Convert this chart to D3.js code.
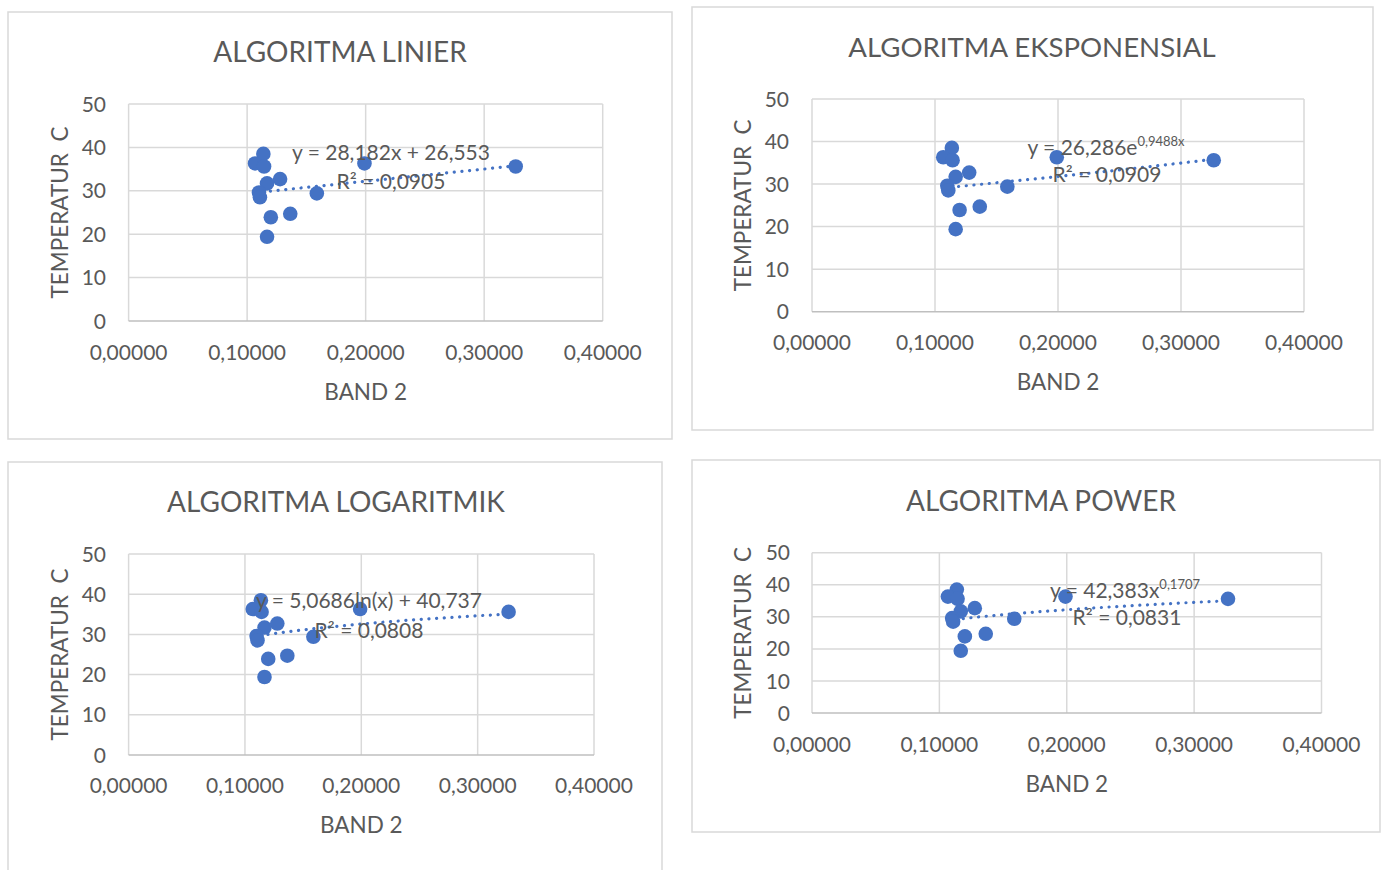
<!DOCTYPE html>
<html><head><meta charset="utf-8">
<script src="https://cdn.jsdelivr.net/npm/d3@7"></script>
<style>
body{margin:0;background:#fff;overflow:hidden;}
svg text{font-family:Lato,"Open Sans",sans-serif;fill:#595959;}
</style></head><body>
<svg id="c" width="1381" height="870"></svg>
<script>
// ---- data ----
const band2       = [0.1137, 0.1067, 0.1143, 0.1278, 0.1168, 0.1100, 0.1108, 0.1588, 0.1990, 0.3266, 0.1200, 0.1364, 0.1168];
const temperature = [38.5,   36.3,   35.6,   32.7,   31.7,   29.6,   28.5,   29.4,   36.3,   35.6,   23.9,   24.7,   19.4];
const xTicks = [0, 0.1, 0.2, 0.3, 0.4];
const yTicks = [0, 10, 20, 30, 40, 50];
const chartTitles = ["ALGORITMA LINIER", "ALGORITMA EKSPONENSIAL", "ALGORITMA LOGARITMIK", "ALGORITMA POWER"];
const trendTypes = ["linear", "exp", "log", "power"];
const trendA = [28.182, 26.286, 5.0686, 42.383];
const trendB = [26.553, 0.9488, 40.737, 0.1707];
const eqMain = ["y = 28,182x + 26,553", "y = 26,286e", "y = 5,0686ln(x) + 40,737", "y = 42,383x"];
const eqSup  = ["", "0,9488x", "", "0,1707"];
const rSquared = ["0,0905", "0,0909", "0,0808", "0,0831"];
const xLabel = "BAND 2", yLabel = "TEMPERATUR  C";

// ---- layout ----
const layouts = [
 {box:[8,12,672,439],   plot:[128.6,602.7,104,321],  titleX:340,  titleY:62,  titleSize:28,   tickY:360,  axisY:400,  ytickX:106, ytitleX:68,  eq:[391,160],  r2:[391,189]},
 {box:[692,7,1373,430], plot:[812,1304,99,311.7],    titleX:1032, titleY:57,  titleSize:27.6, tickY:350,  axisY:390,  ytickX:789, ytitleX:751, eq:[1106,155], r2:[1107,182]},
 {box:[8,462,662,900],  plot:[128.6,594,554,755],    titleX:336,  titleY:512, titleSize:28,   tickY:793,  axisY:833,  ytickX:106, ytitleX:68,  eq:[369,608],  r2:[369,638]},
 {box:[692,460,1380,832],plot:[812,1321.5,552.7,713],titleX:1041, titleY:511, titleSize:28,   tickY:752,  axisY:792,  ytickX:790, ytitleX:751, eq:[1125,598], r2:[1127,625]}
];

const fmtX = v => d3.format(".5f")(v).replace(".", ",");
const trendFn = (t, a, b) => t === "linear" ? x => a*x + b
  : t === "exp" ? x => a*Math.exp(b*x)
  : t === "log" ? x => a*Math.log(x) + b
  : x => a*Math.pow(x, b);

const svg = d3.select("#c");
const pts = band2.map((x,i) => ({x, y: temperature[i]}));
const xMin = d3.min(band2), xMax = d3.max(band2);

layouts.forEach((L, i) => {
  const g = svg.append("g");
  g.append("rect").attr("x", L.box[0]).attr("y", L.box[1])
    .attr("width", L.box[2]-L.box[0]).attr("height", L.box[3]-L.box[1])
    .attr("fill", "#fff").attr("stroke", "#d9d9d9").attr("stroke-width", 1.5);

  const x = d3.scaleLinear().domain([0, 0.4]).range([L.plot[0], L.plot[1]]);
  const y = d3.scaleLinear().domain([0, 50]).range([L.plot[3], L.plot[2]]);

  // gridlines
  g.selectAll(".hg").data(yTicks.filter(d => d > 0)).join("line")
    .attr("x1", L.plot[0]).attr("x2", L.plot[1]).attr("y1", d => y(d)).attr("y2", d => y(d))
    .attr("stroke", "#d9d9d9").attr("stroke-width", 1.5);
  g.selectAll(".vg").data(xTicks).join("line")
    .attr("x1", d => x(d)).attr("x2", d => x(d)).attr("y1", L.plot[2]).attr("y2", L.plot[3])
    .attr("stroke", "#d9d9d9").attr("stroke-width", 1.5);
  g.append("line").attr("x1", L.plot[0]).attr("x2", L.plot[1]).attr("y1", y(0)).attr("y2", y(0))
    .attr("stroke", "#bfbfbf").attr("stroke-width", 1.5);

  // tick labels
  g.selectAll(".xt").data(xTicks).join("text")
    .attr("x", d => x(d)).attr("y", L.tickY).attr("text-anchor", "middle")
    .attr("font-size", 21).text(fmtX);
  g.selectAll(".yt").data(yTicks).join("text")
    .attr("x", L.ytickX).attr("y", d => y(d)).attr("dy", "0.36em").attr("text-anchor", "end")
    .attr("font-size", 21).text(d => d);

  // titles
  g.append("text").attr("x", L.titleX).attr("y", L.titleY).attr("text-anchor", "middle")
    .attr("font-size", L.titleSize).text(chartTitles[i]);
  g.append("text").attr("x", (L.plot[0]+L.plot[1])/2).attr("y", L.axisY).attr("text-anchor", "middle")
    .attr("font-size", 22.5).text(xLabel);
  g.append("text").attr("transform", `translate(${L.ytitleX},${(L.plot[2]+L.plot[3])/2}) rotate(-90)`)
    .attr("text-anchor", "middle").attr("font-size", 22.5).style("white-space", "pre").text(yLabel);

  // trendline
  const f = trendFn(trendTypes[i], trendA[i], trendB[i]);
  const xs = d3.range(0, 61).map(k => xMin + (xMax - xMin) * k / 60);
  g.append("path").datum(xs)
    .attr("d", d3.line().x(d => x(d)).y(d => y(f(d))))
    .attr("fill", "none").attr("stroke", "#4472C4").attr("stroke-width", 3.2)
    .attr("stroke-linecap", "round").attr("stroke-dasharray", "0.1 7.6");

  // points
  g.selectAll(".pt").data(pts).join("circle")
    .attr("cx", d => x(d.x)).attr("cy", d => y(d.y)).attr("r", 7.3)
    .attr("fill", "#4472C4");

  // equation labels
  const eq = g.append("text").attr("x", L.eq[0]).attr("y", L.eq[1]).attr("text-anchor", "middle")
    .attr("font-size", 21);
  eq.append("tspan").text(eqMain[i]);
  if (eqSup[i]) eq.append("tspan").attr("font-size", 13).attr("dy", -9).text(eqSup[i]);
  g.append("text").attr("x", L.r2[0]).attr("y", L.r2[1]).attr("text-anchor", "middle")
    .attr("font-size", 21).text("R² = " + rSquared[i]);
});
</script>
</body></html>
